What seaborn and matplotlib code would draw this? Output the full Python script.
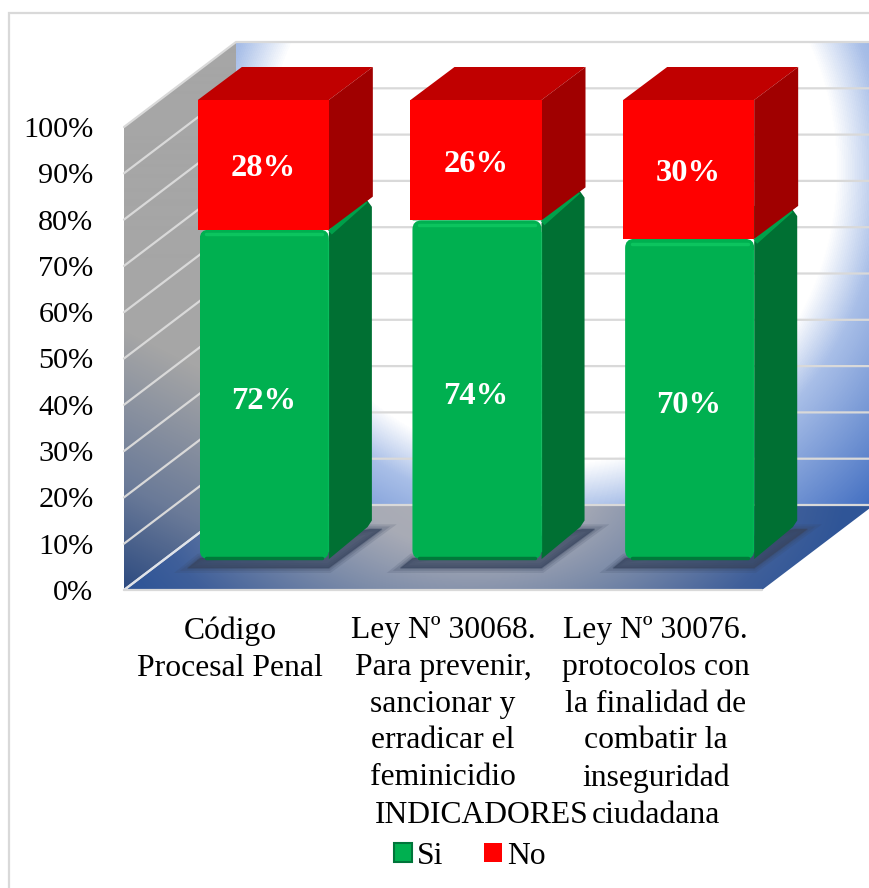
import numpy as np
import seaborn as sns
import matplotlib.pyplot as plt
from matplotlib.colors import LinearSegmentedColormap
from matplotlib.patches import Polygon, FancyBboxPatch, Rectangle, Patch

categories = ['Código\nProcesal Penal',
              'Ley Nº 30068.\nPara prevenir,\nsancionar y\nerradicar el\nfeminicidio',
              'Ley Nº 30076.\nprotocolos con\nla finalidad de\ncombatir la\ninseguridad\nciudadana']
si = [72, 74, 70]
no = [28, 26, 30]
yticks = list(range(0, 101, 10))
W, H = 870, 888

sns.set_theme(style='white')
plt.rcParams['font.family'] = ['Liberation Serif', 'DejaVu Serif']
FS = 22.8


def box(l, t, r, b):
    return [l / W, 1 - b / H, (r - l) / W, (b - t) / H]


fig = plt.figure(figsize=(W / 100, H / 100), dpi=100, facecolor='white')

# pixel layer for the fake 3d room
bg = fig.add_axes([0, 0, 1, 1], zorder=0)
bg.set_xlim(0, W)
bg.set_ylim(H, 0)
bg.axis('off')

bg.add_patch(Rectangle((9, 13), W + 20, H + 20, fc='white', ec='#d9d9d9', lw=1.6))

yy, xx = np.mgrid[0:H, 0:W]
wall = np.sqrt(((xx - 550) / 330) ** 2 + ((yy - 170) / 340) ** 2)
wall_cm = LinearSegmentedColormap.from_list('wall', [(0, 'white'), (0.62, 'white'), (0.72, '#a9bfe8'), (1, '#3f6cc0')])
side = yy - 0.5 * (xx - 124)
side_cm = LinearSegmentedColormap.from_list('side', [(0, '#a6a6a6'), (0.6, '#6a7a98'), (1, '#2c4a80')])
floor = np.sqrt(((xx - 470) / 330) ** 2 + ((yy - 480) / 200) ** 2)
floor_cm = LinearSegmentedColormap.from_list('floor', [(0, '#b0b0b4'), (0.3, '#a8abb6'), (0.55, '#7a8aa8'), (0.85, '#3f5f9a'), (1, '#2f5597')])

room = [(wall, wall_cm, 0, 1.4, [(236, 42), (880, 42), (880, 505), (236, 505)]),
        (side, side_cm, 330, 590, [(124, 127), (236, 42), (236, 505), (124, 590)]),
        (floor, floor_cm, 0, 1.15, [(124, 590), (236, 505), (874, 505), (762, 590)])]
for grad, cmap, vmin, vmax, pts in room:
    im = bg.imshow(grad, cmap=cmap, vmin=vmin, vmax=vmax, extent=(0, W, H, 0), aspect='auto', zorder=1)
    im.set_clip_path(Polygon(pts, closed=True, transform=bg.transData))
bg.set_xlim(0, W)
bg.set_ylim(H, 0)

# front plane: axis labels live here
ax = fig.add_axes(box(124, 127, 762, 590), zorder=1)
ax.patch.set_alpha(0)
ax.set_xlim(-0.5, 2.5)
ax.set_ylim(0, 100)
sns.despine(ax=ax, left=True, bottom=True, top=True, right=True)
ax.set_xticks(range(3))
ax.set_xticklabels(categories, fontsize=FS, color='black', linespacing=1.35)
ax.set_yticks(yticks)
ax.set_yticklabels([f'{v}%' for v in yticks], fontsize=21.8, color='black')
ax.tick_params(axis='x', length=0, pad=19)
ax.tick_params(axis='y', length=0, pad=22)
ax.set_xlabel('INDICADORES', fontsize=FS, color='black', va='center')
ax.xaxis.set_label_coords((482 - 124) / 638, -(815 - 590) / 463)

# gridlines on the side wall and back wall
for v in yticks:
    y = 590 - v * 4.63
    bg.plot([124, 236, 880], [y, y - 85, y - 85], color='#d9d9d9', lw=1.6, zorder=2, solid_joinstyle='miter')
bg.plot([124, 236], [590, 505], color='#dfe3ea', lw=1.6, zorder=2)
bg.plot([124, 762], [590, 590], color='#d9d9d9', lw=1.6, zorder=2)

# bars, sitting half way into the floor
ax_bar = fig.add_axes(box(158, 100, 796, 563), zorder=2)
ax_bar.patch.set_alpha(0)
sns.barplot(x=[0, 1, 2], y=si, color='#00B050', width=0.607, saturation=1, ax=ax_bar, native_scale=True, linewidth=0)
sns.barplot(x=[0, 1, 2], y=no, bottom=si, color='#FF0000', width=0.616, saturation=1, ax=ax_bar, native_scale=True, linewidth=0)
ax_bar.set_xlim(-0.5, 2.5)
ax_bar.set_ylim(0, 100)
ax_bar.axis('off')

px = 638 / 3
dx = 43 / px
dy = 33 / 4.63
floor_v = 0.85
n = len(si)
green_bars = ax_bar.patches[:n]
red_bars = ax_bar.patches[n:]

for b in green_bars:
    x0, x1, top = b.get_x(), b.get_x() + b.get_width(), b.get_height()
    # shadow on the floor, a few layers to soften it
    shadow = [(x0 - 12 / px, -1.1), (x1, -1.1), (x1 + 53 / px, 7.3), (x1 + dx - 0.01, 7.3), (x0, 1)]
    for lw, alpha in ((7, 0.16), (4, 0.2), (1.5, 0.28), (0, 0.45)):
        ax_bar.add_patch(Polygon(shadow, fc='#38455f', ec='#38455f', lw=lw, alpha=alpha, zorder=1, clip_on=False))
    ax_bar.add_patch(Polygon([(x0, top), (x0 + dx, top + dy), (x1 + dx, top + dy), (x1, top)],
                             fc='#00a04a', ec='none', zorder=2, clip_on=False))
    ax_bar.add_patch(Polygon([(x1, floor_v), (x1 + dx - 0.02, floor_v + dy - 0.2), (x1 + dx, floor_v + dy + 1.2),
                              (x1 + dx, top + dy - 2.2), (x1 + dx - 0.03, top + dy - 0.3), (x1, top - 0.5)],
                             fc='#007033', ec='none', zorder=2, clip_on=False))
    ax_bar.plot([x1 + 0.005, x1 + dx - 0.03], [top - 0.6, top + dy - 0.9], color='#00a04a', lw=4, zorder=2.5,
                solid_capstyle='butt', clip_on=False)
    b.set_zorder(3)
    # rounded front face
    l, bt = ax_bar.transData.transform((x0, floor_v))
    r, tp = ax_bar.transData.transform((x1, top))
    rnd = FancyBboxPatch((l + 8, bt + 8), r - l - 16, tp - bt - 16, boxstyle='round,pad=8,rounding_size=9',
                         transform=None)
    b.set_clip_path(rnd)
    ax_bar.plot([x0 + 0.03, x1 - 0.03], [top - 1.0, top - 1.0], color='#0cc45e', lw=2.5, zorder=4)
    ax_bar.plot([x0 + 0.03, x1 - 0.03], [floor_v + 0.3, floor_v + 0.3], color='#007a3a', lw=2.5, zorder=4)
    ax_bar.plot([x1 - 0.004, x1 - 0.004], [2.5, top - 2.5], color='#00c25a', lw=1, alpha=0.6, zorder=4)

for b, base in zip(red_bars, si):
    b.set_x(b.get_x() - 1 / px)
    x0, x1, top = b.get_x(), b.get_x() + b.get_width(), base + b.get_height()
    rdx = 44 / px
    ax_bar.add_patch(Polygon([(x0, top), (x0 + rdx, top + dy), (x1 + rdx, top + dy), (x1, top)],
                             fc='#C00000', ec='none', zorder=5, clip_on=False))
    ax_bar.add_patch(Polygon([(x1, base), (x1 + rdx, base + dy), (x1 + rdx, top + dy), (x1, top)],
                             fc='#A00000', ec='none', zorder=5, clip_on=False))
    b.set_zorder(6)

for i in range(n):
    ax_bar.annotate(f'{si[i]}%', (i, si[i] / 2), xytext=(-1, -5), textcoords='offset pixels', color='white',
                    fontsize=23.4, fontweight='bold', ha='center', va='center', zorder=8)
    ax_bar.annotate(f'{no[i]}%', (i, si[i] + no[i] / 2), xytext=(-1, -4), textcoords='offset pixels', color='white',
                    fontsize=23.4, fontweight='bold', ha='center', va='center', zorder=8)

handles = [Patch(fc='#00B050', ec='#00753a', lw=1.5), Patch(fc='#FF0000', ec='none')]
fig.legend(handles, ['Si', 'No'], loc='center', bbox_to_anchor=(470 / W, 1 - 856 / H), ncol=2, frameon=False,
           fontsize=FS, handlelength=0.55, handleheight=0.55, handletextpad=0.17, columnspacing=1.3, labelcolor='black')

fig.savefig('out.png', dpi=100)
